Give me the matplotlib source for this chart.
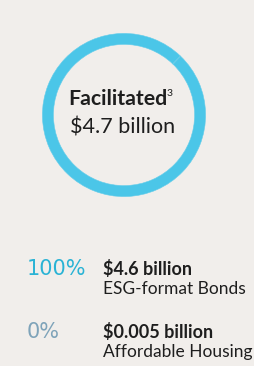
import matplotlib.pyplot as plt

# data
categories = ['ESG-format Bonds', 'Affordable Housing']
amounts = [4.6, 0.005]          # $ billion
shares = ['100%', '0%']
amount_labels = ['$4.6 billion', '$0.005 billion']
total_label = '$4.7 billion'

bg = '#f1eeeb'
ring = '#4bc6e8'
pct_colors = ['#2ab3d5', '#7ea3b9']
dark = '#1e1e1e'

plt.rcParams['font.family'] = ['Lato', 'DejaVu Sans']

fig = plt.figure(figsize=(2.54, 3.66), dpi=100)
fig.patch.set_facecolor(bg)

# donut
cx, cy, r = 124, 115, 102
pax = fig.add_axes([(cx - r) / 254, (366 - cy - r) / 366, 2 * r / 254, 2 * r / 366])
pax.pie(amounts, colors=[ring, ring], startangle=46, counterclock=False,
        radius=1, wedgeprops=dict(width=0.135, edgecolor='#66cdea', linewidth=0.4))
pax.set_aspect('equal')
pax.axis('off')

# text layer in pixel coords
ax = fig.add_axes([0, 0, 1, 1])
ax.set_xlim(0, 254)
ax.set_ylim(366, 0)
ax.axis('off')
ax.patch.set_alpha(0)

ax.text(68, 105, 'Facilitated', ha='left', va='baseline', fontsize=15.3,
        fontweight='bold', color=dark)
ax.text(166.5, 96, '3', ha='left', va='baseline', fontsize=7.5, color=dark)
ax.text(123, 134, total_label, ha='center', va='baseline', fontsize=15.5, color=dark)

base_y = [275, 338]
for i, y in enumerate(base_y):
    ax.text(27, y, shares[i], ha='left', va='baseline', fontsize=15,
            family=['DejaVu Sans'], color=pct_colors[i])
    ax.text(103, y, amount_labels[i], ha='left', va='baseline', fontsize=13,
            fontweight='bold', color=dark)
    ax.text(103, y + 19.5, categories[i], ha='left', va='baseline', fontsize=12.5,
            color=dark)

plt.savefig('out.png', dpi=100, facecolor=bg)
